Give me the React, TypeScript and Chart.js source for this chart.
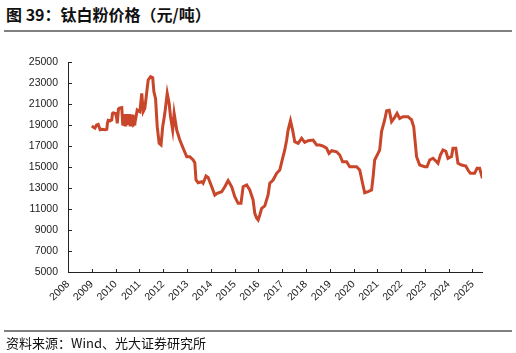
import React, { useEffect, useRef } from 'react';
import { Chart, registerables } from 'chart.js';

Chart.register(...registerables);

const TITLE = '图 39：钛白粉价格（元/吨）';
const SOURCE = '资料来源：Wind、光大证券研究所';

// time (fractional year) and price (元/吨)
const years = [
  2009.00, 2009.13, 2009.20, 2009.27, 2009.35, 2009.42, 2009.55, 2009.63, 2009.66, 2009.69, 2009.77, 2009.84, 2009.87, 2009.90, 2010.00, 2010.05, 2010.07, 2010.12, 2010.16, 2010.26, 2010.30,
  2010.32, 2010.34, 2010.36, 2010.38, 2010.41, 2010.43, 2010.46, 2010.48, 2010.51, 2010.53, 2010.56, 2010.58, 2010.61, 2010.63, 2010.66, 2010.68, 2010.71, 2010.73, 2010.76, 2010.78, 2010.81,
  2010.91, 2011.02, 2011.10, 2011.16, 2011.23, 2011.37, 2011.47, 2011.56, 2011.61, 2011.68, 2011.75, 2011.83, 2011.91, 2011.98,
  2012.07, 2012.17, 2012.25, 2012.31, 2012.40, 2012.46, 2012.57, 2012.70, 2012.84, 2012.99,
  2013.12, 2013.26, 2013.33, 2013.38, 2013.47, 2013.62, 2013.68, 2013.80, 2013.89,
  2014.04, 2014.17, 2014.27, 2014.46, 2014.59, 2014.73, 2014.88,
  2015.01, 2015.15, 2015.27, 2015.36, 2015.51, 2015.64, 2015.78, 2015.85, 2015.93, 2015.99,
  2016.06, 2016.14, 2016.27, 2016.41, 2016.48, 2016.62, 2016.77, 2016.90,
  2017.02, 2017.11, 2017.19, 2017.25, 2017.35, 2017.44, 2017.53, 2017.67, 2017.82, 2017.95,
  2018.09, 2018.30, 2018.45, 2018.58, 2018.72, 2018.87, 2018.97,
  2019.08, 2019.29, 2019.42, 2019.54, 2019.71, 2019.84,
  2020.13, 2020.26, 2020.38, 2020.47, 2020.61, 2020.76, 2020.82, 2020.89,
  2021.03, 2021.10, 2021.18, 2021.31, 2021.39, 2021.50, 2021.60, 2021.73, 2021.83, 2021.94,
  2022.08, 2022.29, 2022.44, 2022.53, 2022.65, 2022.78, 2022.99,
  2023.09, 2023.20, 2023.34, 2023.49, 2023.55, 2023.65, 2023.76, 2023.88, 2023.97,
  2024.12, 2024.18, 2024.30, 2024.39, 2024.54, 2024.72, 2024.81, 2024.91,
  2025.09, 2025.19, 2025.30, 2025.42,
];

const prices = [
  18900, 18700, 19000, 19050, 18550, 18600, 18550, 18600, 19200, 19450, 19400, 19500, 20100, 20150, 20100, 19600, 19150, 20500, 20600, 20650, 19100,
  19100, 20000, 19050, 20050, 19000, 20000, 19050, 20050, 19000, 20000, 19050, 20050, 19000, 20000, 19050, 20000, 19000, 20000, 19050, 19100, 19160,
  20430, 20270, 22020, 20270, 20590, 23290, 23600, 23500, 22170, 21500, 18840, 17260, 17100, 18840,
  20110, 22020, 21070, 19790, 18520, 20110, 18520, 17570, 16780, 15980,
  15980, 15670, 15400, 13760, 13500, 13600, 13450, 14140, 14000,
  13120, 12330, 12500, 12650, 13120, 13700, 13120,
  12170, 11540, 11540, 13120, 13290, 12810, 11860, 10590, 10110, 9950,
  10430, 11070, 11300, 12330, 13450, 13760, 14400, 14710,
  15830, 16620, 17570, 18520, 19410, 18520, 17410, 17260, 17730, 17350,
  17500, 17570, 17100, 17100, 17000, 16780, 16300,
  16550, 16450, 16140, 15500, 15500, 15030,
  15030, 14710, 13450, 12550, 12650, 12810, 14000, 15670,
  16300, 16620, 18400, 19480, 20360, 20400, 19320, 19730, 20110, 19620,
  19790, 19790, 19480, 18840, 15980, 15190, 15030,
  15030, 15670, 15830, 15500, 15350, 16140, 16620, 16500, 15830,
  16000, 16780, 16780, 15350, 15190, 15100, 14710, 14400,
  14400, 14870, 14870, 13920,
];

const xMin = 2008;
const xMax = 2025.4;
const yMin = 5000;
const yMax = 25000;
const yStep = 2000;

const LINE_COLOR = '#C9462A';

const inwardTicks = {
  id: 'inwardTicks',
  afterDraw(chart: any) {
    const { ctx } = chart;
    const xs = chart.scales.x;
    const ys = chart.scales.y;
    ctx.save();
    ctx.strokeStyle = '#222';
    ctx.lineWidth = 1;
    ctx.beginPath();
    xs.ticks.forEach((t: any) => {
      const px = Math.round(xs.getPixelForValue(t.value)) + 0.5;
      ctx.moveTo(px, xs.top);
      ctx.lineTo(px, xs.top - 3);
    });
    ys.ticks.forEach((t: any) => {
      const py = Math.round(ys.getPixelForValue(t.value)) + 0.5;
      ctx.moveTo(ys.right, py);
      ctx.lineTo(ys.right + 4, py);
    });
    ctx.stroke();
    ctx.restore();
  },
};

export default function App() {
  const ref = useRef<HTMLCanvasElement | null>(null);

  useEffect(() => {
    if (!ref.current) return;
    const data = years.map((yr, i) => ({ x: yr, y: prices[i] }));
    const chart = new Chart(ref.current, {
      type: 'line',
      data: {
        datasets: [
          {
            data,
            borderColor: LINE_COLOR,
            borderWidth: 3,
            pointRadius: 0,
            tension: 0,
            fill: false,
          },
        ],
      },
      options: {
        animation: false,
        responsive: false,
        maintainAspectRatio: false,
        layout: { padding: { top: 62, right: 34, left: 0, bottom: 0 } },
        plugins: { legend: { display: false }, tooltip: { enabled: false } },
        scales: {
          x: {
            type: 'linear',
            min: xMin,
            max: xMax,
            afterFit: (s: any) => {
              s.height = 81;
            },
            grid: { display: false, drawTicks: false },
            border: { display: true, color: '#222', width: 1 },
            ticks: {
              stepSize: 1,
              includeBounds: false,
              autoSkip: false,
              minRotation: 45,
              maxRotation: 45,
              padding: 6,
              color: '#222',
              font: { family: 'Liberation Sans, Arial, sans-serif', size: 10.5 },
              callback: (v: any) => String(v),
            },
          },
          y: {
            type: 'linear',
            min: yMin,
            max: yMax,
            afterFit: (s: any) => {
              s.width = 68;
            },
            grid: { display: false, drawTicks: false },
            border: { display: true, color: '#222', width: 1 },
            ticks: {
              stepSize: yStep,
              padding: 10,
              color: '#222',
              font: { family: 'Liberation Sans, Arial, sans-serif', size: 10.5 },
              callback: (v: any) => String(v),
            },
          },
        },
      },
      plugins: [inwardTicks],
    });
    return () => chart.destroy();
  }, []);

  return (
    <div style={{ position: 'absolute', left: 0, top: 0, width: 516, height: 353, background: '#fff', overflow: 'hidden' }}>
      <div
        style={{
          position: 'absolute',
          left: 6,
          top: 4,
          fontFamily: '"Noto Sans CJK SC", sans-serif',
          fontWeight: 700,
          fontSize: 16,
          lineHeight: '20px',
          color: '#111',
          whiteSpace: 'nowrap',
        }}
      >
        {TITLE}
      </div>
      <div style={{ position: 'absolute', left: 4, top: 30, width: 508, height: 2, background: '#808080' }} />
      <canvas ref={ref} width={516} height={353} style={{ position: 'absolute', left: 0, top: 0 }} />
      <div style={{ position: 'absolute', left: 4, top: 330, width: 508, height: 2, background: '#808080' }} />
      <div
        style={{
          position: 'absolute',
          left: 6,
          top: 334,
          fontFamily: '"Noto Sans CJK SC", sans-serif',
          fontSize: 13,
          lineHeight: '18px',
          color: '#111',
          whiteSpace: 'nowrap',
        }}
      >
        {SOURCE}
      </div>
    </div>
  );
}
